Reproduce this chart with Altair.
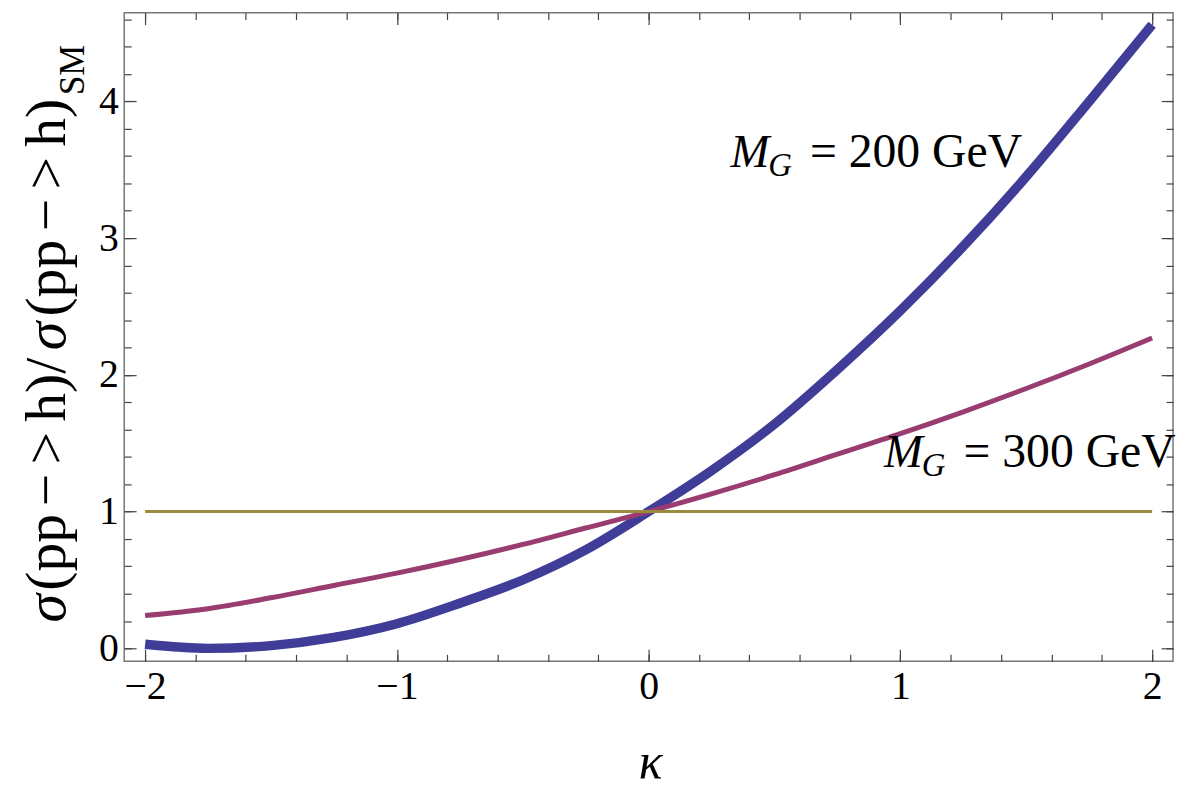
import altair as alt
import pandas as pd

# ---- data ----
kappa = [-2.0, -1.75, -1.5, -1.25, -1.0, -0.75, -0.5, -0.25, 0.0,
         0.25, 0.5, 0.75, 1.0, 1.25, 1.5, 1.75, 2.0]
ratio_200 = [0.03, 0.00, 0.02, 0.08, 0.18, 0.33, 0.50, 0.72, 1.00,
             1.30, 1.64, 2.04, 2.47, 2.94, 3.45, 4.00, 4.56]
ratio_300 = [0.24, 0.29, 0.37, 0.46, 0.55, 0.65, 0.76, 0.88, 1.00,
             1.13, 1.27, 1.42, 1.57, 1.73, 1.90, 2.08, 2.27]
sm_kappa = [-2.0, 2.0]
sm_ratio = [1.0, 1.0]

x_major = [-2, -1, 0, 1, 2]
x_minor = [-2.0, -1.8, -1.6, -1.4, -1.2, -1.0, -0.8, -0.6, -0.4, -0.2, 0.0,
           0.2, 0.4, 0.6, 0.8, 1.0, 1.2, 1.4, 1.6, 1.8, 2.0]
y_major = [0, 1, 2, 3, 4]
y_minor = [0.0, 0.2, 0.4, 0.6, 0.8, 1.0, 1.2, 1.4, 1.6, 1.8, 2.0, 2.2, 2.4,
           2.6, 2.8, 3.0, 3.2, 3.4, 3.6, 3.8, 4.0, 4.2, 4.4, 4.6]

label_kappa = [0.325, 0.935]
label_ratio = [3.523, 1.328]
label_mass = ["200 GeV", "300 GeV"]

# ---- layout / style ----
SERIF = "Liberation Serif"
W, H = 1056, 653
BLUE, MAGENTA, OLIVE = "#403d99", "#993d71", "#998b3d"

x_scale = alt.Scale(domain=[-2.083, 2.083], nice=False, zero=False)
y_scale = alt.Scale(domain=[-0.094, 4.649], nice=False, zero=False)


def ax(orient, values, size, offset=0, labels=False, pad=0):
    kw = dict(orient=orient, values=values, domain=False, grid=False,
              title=None, labels=labels, tickColor="#444", tickWidth=1.2)
    if size:
        kw.update(ticks=True, tickSize=size)
    else:
        kw.update(ticks=False, tickSize=0)
    if offset:
        kw["offset"] = offset
    if labels:
        kw.update(labelFont=SERIF, labelFontSize=40, labelColor="black",
                  labelPadding=pad, format="d", labelFlush=False,
                  labelOverlap=False)
    return alt.Axis(**kw)


curves = pd.DataFrame({"kappa": kappa, "r200": ratio_200, "r300": ratio_300})
sm = pd.DataFrame({"kappa": sm_kappa, "r": sm_ratio})
labels = pd.DataFrame({"kappa": label_kappa, "r": label_ratio, "mass": label_mass})

blue = alt.Chart(curves).mark_line(
    color=BLUE, strokeWidth=9.5, interpolate="monotone", strokeCap="butt"
).encode(
    x=alt.X("kappa:Q", scale=x_scale, axis=ax("bottom", x_major, 0, labels=True, pad=6)),
    y=alt.Y("r200:Q", scale=y_scale, axis=ax("left", y_major, 0, labels=True, pad=6)),
)

magenta = alt.Chart(curves).mark_line(
    color=MAGENTA, strokeWidth=5, interpolate="monotone", strokeCap="butt"
).encode(
    x=alt.X("kappa:Q", scale=x_scale, axis=ax("top", x_major, 12, offset=-H)),
    y=alt.Y("r300:Q", scale=y_scale, axis=ax("right", y_major, 12, offset=-W)),
)

olive = alt.Chart(sm).mark_line(
    color=OLIVE, strokeWidth=3, strokeCap="butt"
).encode(
    x=alt.X("kappa:Q", scale=x_scale, axis=ax("top", x_minor, 7, offset=-H)),
    y=alt.Y("r:Q", scale=y_scale, axis=ax("right", y_minor, 7, offset=-W)),
)

lab_m = alt.Chart(labels).mark_text(
    text="M", font=SERIF, fontStyle="italic", fontSize=47, align="left",
    baseline="alphabetic", color="black"
).encode(
    x=alt.X("kappa:Q", scale=x_scale, axis=ax("bottom", x_major, 12, offset=-H)),
    y=alt.Y("r:Q", scale=y_scale, axis=ax("left", y_major, 12, offset=-W)),
)

lab_g = alt.Chart(labels).mark_text(
    text="G", font=SERIF, fontStyle="italic", fontSize=33, align="left",
    baseline="alphabetic", color="black", dx=38, dy=9
).encode(
    x=alt.X("kappa:Q", scale=x_scale, axis=ax("bottom", x_minor, 7, offset=-H)),
    y=alt.Y("r:Q", scale=y_scale, axis=ax("left", y_minor, 7, offset=-W)),
)

lab_rest = alt.Chart(labels).transform_calculate(
    txt="'= ' + datum.mass"
).mark_text(
    font=SERIF, fontSize=48, align="left", baseline="alphabetic",
    color="black", dx=80
).encode(
    x=alt.X("kappa:Q", scale=x_scale, axis=None),
    y=alt.Y("r:Q", scale=y_scale, axis=None),
    text="txt:N",
)

one = alt.Data(values=[{"k": 1}])

# y-axis title pieces (rotated), positions in chart pixels
TX = -60
pieces = [
    ("\u03c3", 614, True, 58, 0),
    ("(pp", 582, False, 58, 0),
    ("\u2212", 497, False, 58, 0),
    (">", 455, False, 58, 0),
    ("h)/", 412, False, 58, 0),
    ("\u03c3", 340, True, 58, 0),
    ("(pp", 306, False, 58, 0),
    ("\u2212", 220, False, 58, 0),
    (">", 178, False, 58, 0),
    ("h)", 135, False, 58, 0),
    ("SM", 83, False, 35, 20),
]
title_layers = []
for txt, ypos, ital, size, shift in pieces:
    title_layers.append(
        alt.Chart(one).mark_text(
            text=txt, font=SERIF, fontSize=size,
            fontStyle="italic" if ital else "normal",
            angle=270, align="left", baseline="alphabetic", color="black"
        ).encode(x=alt.value(TX + shift), y=alt.value(ypos))
    )

kappa_title = alt.Chart(one).mark_text(
    text="\u03ba", font=SERIF, fontStyle="italic", fontSize=50,
    align="center", baseline="alphabetic", color="black"
).encode(x=alt.value(W / 2 + 2), y=alt.value(771))

chart = alt.layer(
    blue, magenta, olive, lab_m, lab_g, lab_rest, kappa_title, *title_layers
).resolve_axis(
    x="independent", y="independent"
).properties(
    width=W, height=H,
    autosize=alt.AutoSizeParams(type="none"),
    padding={"left": 117, "top": 2, "right": 3, "bottom": 128},
    background="white",
).configure_view(
    stroke="#777", strokeWidth=1.5
)

chart.save("out.html", embed_options={"renderer": "svg", "actions": False})
